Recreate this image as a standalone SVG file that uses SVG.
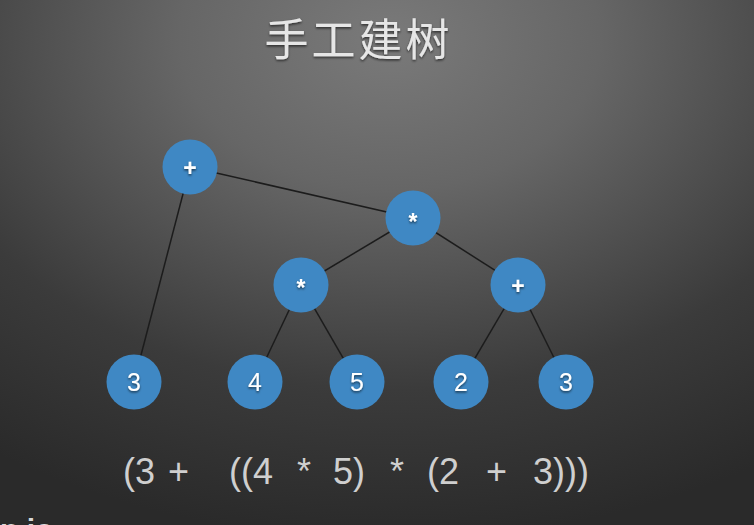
<svg xmlns="http://www.w3.org/2000/svg" width="754" height="525" viewBox="0 0 754 525">
  <defs>
    <radialGradient id="bg" gradientUnits="userSpaceOnUse" cx="0" cy="0" r="1" gradientTransform="translate(390 40) scale(700 500)">
      <stop offset="0" stop-color="#7a7a7a"/>
      <stop offset="0.3" stop-color="#666666"/>
      <stop offset="0.7" stop-color="#3b3b3b"/>
      <stop offset="1" stop-color="#2a2a2a"/>
    </radialGradient>
    <filter id="sh" x="-50%" y="-50%" width="200%" height="200%">
      <feDropShadow dx="0" dy="1.5" stdDeviation="1" flood-color="#000" flood-opacity="0.6"/>
    </filter>
  </defs>
  <style>
    .edge { stroke: #1c1c1c; stroke-width: 1.5; fill: none; }
    .node circle { fill: #3f88c4; }
    .lbl { font-family: "Liberation Sans", Arial, sans-serif; font-size: 25px; fill: #ffffff; text-anchor: middle; filter: url(#sh); }
    .op { font-weight: bold; font-size: 23px; }
    .expr { font-family: "Liberation Sans", Arial, sans-serif; font-size: 36px; fill: #cfcfcf; }
    .title { font-family: "Noto Sans CJK SC", "Noto Sans", sans-serif; font-size: 44px; fill: #e6e6e6; text-anchor: middle; filter: url(#sh); }
  </style>
  <rect width="754" height="525" fill="url(#bg)"/>

  <text class="title" x="357" y="56" letter-spacing="3" dx="1.5">手工建树</text>

  <g id="connectors">
    <line class="edge" x1="190" y1="167" x2="413" y2="218"/>
    <line class="edge" x1="190" y1="167" x2="134" y2="382"/>
    <line class="edge" x1="413" y1="218" x2="301" y2="285"/>
    <line class="edge" x1="413" y1="218" x2="518" y2="285"/>
    <line class="edge" x1="301" y1="285" x2="255" y2="382"/>
    <line class="edge" x1="301" y1="285" x2="357" y2="382"/>
    <line class="edge" x1="518" y1="285" x2="461" y2="382"/>
    <line class="edge" x1="518" y1="285" x2="566" y2="382"/>
  </g>

  <g id="n-plus-root" class="node">
    <circle cx="190" cy="167" r="27.5"/>
    <text class="lbl op" x="190" y="176">+</text>
  </g>
  <g id="n-mul-top" class="node">
    <circle cx="413" cy="218" r="27.5"/>
    <text class="lbl op" x="413" y="230">*</text>
  </g>
  <g id="n-mul-left" class="node">
    <circle cx="301" cy="285" r="27.5"/>
    <text class="lbl op" x="301" y="296">*</text>
  </g>
  <g id="n-plus-right" class="node">
    <circle cx="518" cy="285" r="27.5"/>
    <text class="lbl op" x="518" y="294">+</text>
  </g>
  <g id="n-3a" class="node">
    <circle cx="134" cy="382" r="27.5"/>
    <text class="lbl" x="134" y="391">3</text>
  </g>
  <g id="n-4" class="node">
    <circle cx="255" cy="382" r="27.5"/>
    <text class="lbl" x="255" y="391">4</text>
  </g>
  <g id="n-5" class="node">
    <circle cx="357" cy="382" r="27.5"/>
    <text class="lbl" x="357" y="391">5</text>
  </g>
  <g id="n-2" class="node">
    <circle cx="461" cy="382" r="27.5"/>
    <text class="lbl" x="461" y="391">2</text>
  </g>
  <g id="n-3b" class="node">
    <circle cx="566" cy="382" r="27.5"/>
    <text class="lbl" x="566" y="391">3</text>
  </g>

  <text class="expr" y="484"><tspan x="123">(3</tspan><tspan x="168">+</tspan><tspan x="229">((4</tspan><tspan x="297">*</tspan><tspan x="333">5)</tspan><tspan x="390">*</tspan><tspan x="427">(2</tspan><tspan x="486">+</tspan><tspan x="533">3)))</tspan></text>

  <text x="0" y="540" font-family="Liberation Sans, Arial, sans-serif" font-size="30" font-weight="bold" fill="#d8d8d8">n.io</text>
</svg>
